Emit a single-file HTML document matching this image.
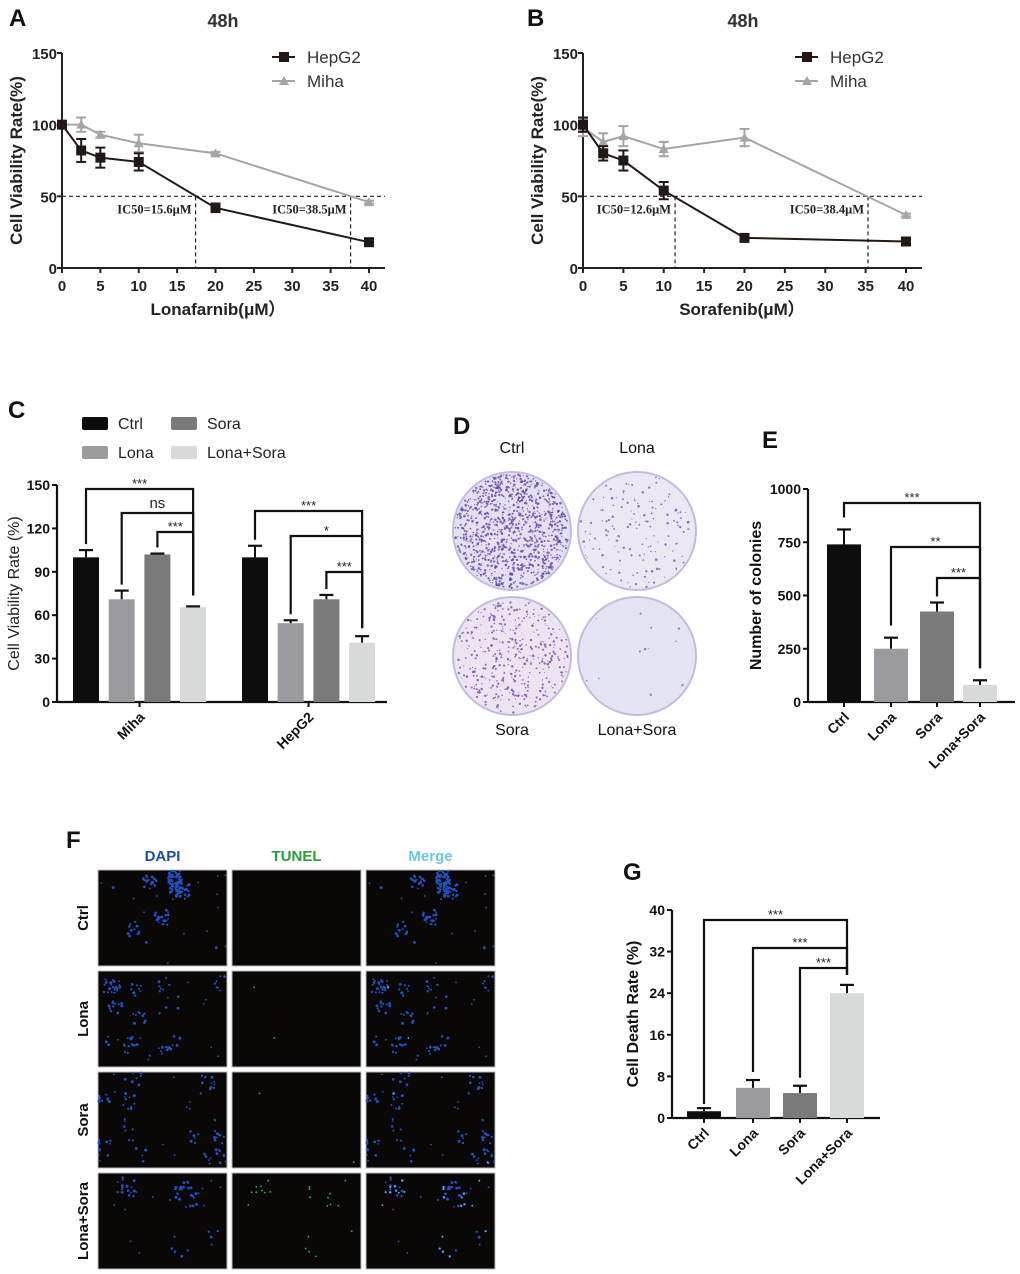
<!DOCTYPE html>
<html><head><meta charset="utf-8"><style>
html,body{margin:0;padding:0;background:#fff;}
svg{display:block;font-family:"Liberation Sans",Arial,sans-serif;}
</style></head><body>
<svg id="fig" width="1020" height="1274" viewBox="0 0 1020 1274" xmlns="http://www.w3.org/2000/svg"></svg>
<script>
// ---------- Panel A data ----------
const doseA = [0, 2.5, 5, 10, 20, 40];
const hepA = [100, 82, 77, 74, 42, 18];
const hepAErr = [1, 8, 7, 6, 3, 2];
const mihaA = [100, 100, 93, 87, 80, 46];
const mihaAErr = [1, 5, 2, 6, 1, 1];
const ic50A = [17.4, 37.6];
// ---------- Panel B data ----------
const doseB = [0, 2.5, 5, 10, 20, 40];
const hepB = [100, 80, 75, 54, 21, 18.5];
const hepBErr = [5, 5, 7, 6, 1, 1];
const mihaB = [98, 88, 92, 83, 91, 37];
const mihaBErr = [6, 6, 7, 5, 6, 1];
const ic50B = [11.4, 35.3];
const xTicksLine = [0, 5, 10, 15, 20, 25, 30, 35, 40];
const yTicksLine = [0, 50, 100, 150];
// ---------- Panel C data ----------
const groupsC = ['Miha', 'HepG2'];
const seriesC = ['Ctrl', 'Lona', 'Sora', 'Lona+Sora'];
const mihaC = [100, 71, 102, 65.5];
const mihaCErr = [5, 6, 0.6, 0.6];
const hepC = [100, 54.5, 71, 41];
const hepCErr = [8, 2, 3, 4.5];
const yTicksC = [0, 30, 60, 90, 120, 150];
// ---------- Panel E data ----------
const catsE = ['Ctrl', 'Lona', 'Sora', 'Lona+Sora'];
const valsE = [740, 250, 425, 80];
const errE = [70, 52, 42, 22];
const yTicksE = [0, 250, 500, 750, 1000];
// ---------- Panel G data ----------
const catsG = ['Ctrl', 'Lona', 'Sora', 'Lona+Sora'];
const valsG = [1.3, 5.8, 4.8, 24];
const errG = [0.6, 1.5, 1.4, 1.6];
const yTicksG = [0, 8, 16, 24, 32, 40];

const barColors = ['#0d0d0d', '#9b9b9f', '#7a7a7a', '#d8d9d9'];
const NS = 'http://www.w3.org/2000/svg';
const svg = document.getElementById('fig');
function mk(tag, attrs, parent) {
  const e = document.createElementNS(NS, tag);
  for (const k in attrs) e.setAttribute(k, attrs[k]);
  (parent || svg).appendChild(e);
  return e;
}
function txt(s, x, y, size, opts, parent) {
  const a = Object.assign({x: x, y: y, 'font-size': size, fill: '#111'}, opts || {});
  const t = mk('text', a, parent);
  t.textContent = s;
  return t;
}
function label(letter, x, y) {
  const t = txt(letter, x, y, 24, {'font-weight': 'bold'});
  
  
}
label('A', 9, 26); label('B', 527, 26); label('C', 8, 418); label('D', 453, 434);
label('E', 762, 448); label('F', 66, 848); label('G', 623, 880);

// ---------- line chart ----------
function lineChart(cfg) {
  const g = mk('g', {});
  
  
  const sx = v => cfg.x0 + (v / 40) * (cfg.x1 - cfg.x0);
  const sy = v => cfg.y0 - (v / 150) * (cfg.y0 - cfg.y1);
  const ti = txt('48h', cfg.titleX, 27, 18, {'font-weight': 'bold', 'text-anchor': 'middle', fill: '#333'}, g);
  
  
  const ya = mk('line', {x1: cfg.x0, y1: cfg.y1, x2: cfg.x0, y2: cfg.y0 + 5, stroke: '#222', 'stroke-width': 2}, g);
  
  
  const xa = mk('line', {x1: cfg.x0 - 5, y1: cfg.y0, x2: cfg.x1 + 16, y2: cfg.y0, stroke: '#222', 'stroke-width': 2}, g);
  
  
  yTicksLine.forEach(v => {
    mk('line', {x1: cfg.x0 - 5, y1: sy(v), x2: cfg.x0, y2: sy(v), stroke: '#222', 'stroke-width': 2}, g);
    const t = txt(String(v), cfg.x0 - 5, sy(v) + 6, 15, {'font-weight': 'bold', 'text-anchor': 'end', fill: '#222'}, g);
    
    
  });
  xTicksLine.forEach(v => {
    mk('line', {x1: sx(v), y1: cfg.y0, x2: sx(v), y2: cfg.y0 + 5, stroke: '#222', 'stroke-width': 2}, g);
    const t = txt(String(v), sx(v), cfg.y0 + 23, 15, {'font-weight': 'bold', 'text-anchor': 'middle', fill: '#222'}, g);
    
    
  });
  const yt = txt('Cell Viability Rate(%)', 0, 0, 17, {'font-weight': 'bold', 'text-anchor': 'middle', fill: '#222', transform: 'translate(' + (cfg.x0 - 40) + ',' + ((cfg.y0 + cfg.y1) / 2) + ') rotate(-90)'}, g);
  
  
  const xt = txt(cfg.xTitle, cfg.xTitleX, cfg.y0 + 47, 17, {'font-weight': 'bold', 'text-anchor': 'middle', fill: '#222'}, g);
  
  
  const h = mk('line', {x1: cfg.x0, y1: sy(50), x2: cfg.x1 + 16, y2: sy(50), stroke: '#222', 'stroke-width': 1.2, 'stroke-dasharray': '4,3'}, g);
  
  
  cfg.ic50.forEach((d, i) => {
    const v = mk('line', {x1: sx(d), y1: sy(50), x2: sx(d), y2: cfg.y0, stroke: '#222', 'stroke-width': 1.2, 'stroke-dasharray': '4,3'}, g);
    
    
    const t = txt(cfg.icLabels[i], sx(d) - 4, sy(50) + 17, 12.5, {'font-family': '"Liberation Serif",serif', 'font-weight': 'bold', 'text-anchor': 'end', fill: '#222'}, g);
    
    
  });
  function series(vals, errs, color, marker, nm) {
    const sg = mk('g', {}, g);
    
    
    const pts = cfg.dose.map((d, i) => sx(d) + ',' + sy(vals[i])).join(' ');
    mk('polyline', {points: pts, fill: 'none', stroke: color, 'stroke-width': 2}, sg);
    cfg.dose.forEach((d, i) => {
      const x = sx(d), yT = sy(vals[i] + errs[i]), yB = sy(vals[i] - errs[i]);
      mk('line', {x1: x, y1: yT, x2: x, y2: yB, stroke: color, 'stroke-width': 2}, sg);
      mk('line', {x1: x - 5, y1: yT, x2: x + 5, y2: yT, stroke: color, 'stroke-width': 2}, sg);
      mk('line', {x1: x - 5, y1: yB, x2: x + 5, y2: yB, stroke: color, 'stroke-width': 2}, sg);
      let m;
      if (marker === 'sq') m = mk('rect', {x: x - 5, y: sy(vals[i]) - 5, width: 10, height: 10, fill: color}, sg);
      else { const y = sy(vals[i]); m = mk('polygon', {points: (x - 5) + ',' + (y + 4) + ' ' + (x + 5) + ',' + (y + 4) + ' ' + x + ',' + (y - 5), fill: color}, sg); }
      
      
    });
  }
  series(cfg.miha, cfg.mihaErr, '#a5a5a5', 'tri', 'series-miha');
  series(cfg.hep, cfg.hepErr, '#231815', 'sq', 'series-hepg2');
  const lx = cfg.legX;
  const l1 = mk('g', {}, g);
  
  
  mk('line', {x1: lx, y1: 57, x2: lx + 23, y2: 57, stroke: '#231815', 'stroke-width': 2}, l1);
  mk('rect', {x: lx + 7, y: 52, width: 10, height: 10, fill: '#231815'}, l1);
  txt('HepG2', lx + 35, 63, 17, {fill: '#333'}, l1);
  const l2 = mk('g', {}, g);
  
  
  mk('line', {x1: lx, y1: 81, x2: lx + 23, y2: 81, stroke: '#a5a5a5', 'stroke-width': 2}, l2);
  mk('polygon', {points: (lx + 7) + ',85 ' + (lx + 17) + ',85 ' + (lx + 12) + ',76', fill: '#a5a5a5'}, l2);
  txt('Miha', lx + 35, 87, 17, {fill: '#333'}, l2);
}
lineChart({name: 'chart-a-lonafarnib', x0: 62, x1: 369, y0: 268, y1: 53, dose: doseA, hep: hepA, hepErr: hepAErr, miha: mihaA, mihaErr: mihaAErr, ic50: ic50A, icLabels: ['IC50=15.6μM', 'IC50=38.5μM'], titleX: 223, legX: 272, xTitle: 'Lonafarnib(μM）', xTitleX: 218});
lineChart({name: 'chart-b-sorafenib', x0: 583, x1: 906, y0: 268, y1: 53, dose: doseB, hep: hepB, hepErr: hepBErr, miha: mihaB, mihaErr: mihaBErr, ic50: ic50B, icLabels: ['IC50=12.6μM', 'IC50=38.4μM'], titleX: 743, legX: 795, xTitle: 'Sorafenib(μM）', xTitleX: 742});

// ---------- bar chart helpers ----------
function bracket(g, xl, xr, y, yl, yr, lab) {
  const b = mk('g', {}, g);
  
  
  mk('polyline', {points: xl + ',' + yl + ' ' + xl + ',' + y + ' ' + xr + ',' + y + ' ' + xr + ',' + yr, fill: 'none', stroke: '#111', 'stroke-width': 2.2}, b);
  const isNs = lab === 'ns';
  txt(lab, (xl + xr) / 2, y - (isNs ? 5 : 1), isNs ? 15 : 13, {'text-anchor': 'middle', fill: '#222'}, b);
}
function vertBars(g, opts) {
  const sy = v => opts.y0 - (v / opts.max) * (opts.y0 - opts.y1);
  const ya = mk('line', {x1: opts.ax, y1: opts.y1, x2: opts.ax, y2: opts.y0, stroke: '#111', 'stroke-width': 2.2}, g);
  
  
  const xa = mk('line', {x1: opts.ax, y1: opts.y0, x2: opts.axEnd, y2: opts.y0, stroke: '#111', 'stroke-width': 2.2}, g);
  
  
  opts.ticks.forEach(v => {
    mk('line', {x1: opts.ax - 5, y1: sy(v), x2: opts.ax, y2: sy(v), stroke: '#111', 'stroke-width': 2}, g);
    const t = txt(String(v), opts.ax - 7, sy(v) + 5, 14, {'font-weight': 'bold', 'text-anchor': 'end', fill: '#111'}, g);
    
    
  });
  return sy;
}
function drawBar(g, x, w, v, e, color, sy, y0, nm) {
  const r = mk('rect', {x: x, y: sy(v), width: w, height: y0 - sy(v), fill: color}, g);
  
  
  const cx = x + w / 2;
  mk('line', {x1: cx, y1: sy(v), x2: cx, y2: sy(v + e), stroke: '#111', 'stroke-width': 2}, g);
  mk('line', {x1: cx - 7, y1: sy(v + e), x2: cx + 7, y2: sy(v + e), stroke: '#111', 'stroke-width': 2.2}, g);
}

// ---------- Panel C ----------
(function () {
  const g = mk('g', {});
  
  
  const y0 = 702, y1 = 485;
  const sy = vertBars(g, {ax: 57, axEnd: 387, y0: y0, y1: y1, max: 150, ticks: yTicksC});
  const groupStart = [73, 242], step = 35.7, w = 26;
  const gv = [mihaC, hepC], ge = [mihaCErr, hepCErr];
  groupsC.forEach((gn, gi) => {
    seriesC.forEach((s, si) => {
      drawBar(g, groupStart[gi] + si * step, w, gv[gi][si], ge[gi][si], barColors[si], sy, y0, 'bar-' + gn.toLowerCase() + '-' + s.toLowerCase());
    });
    const cx = groupStart[gi] + 1.5 * step + w / 2;
    mk('line', {x1: cx, y1: y0, x2: cx, y2: y0 + 5, stroke: '#111', 'stroke-width': 2}, g);
    const t = txt(gn, 0, 0, 14, {'font-weight': 'bold', 'text-anchor': 'end', fill: '#111', transform: 'translate(' + (cx + 6) + ',' + (y0 + 16) + ') rotate(-45)'}, g);
    
    
  });
  const yt = txt('Cell Viability Rate (%)', 0, 0, 16, {'text-anchor': 'middle', fill: '#222', transform: 'translate(19,' + ((y0 + y1) / 2) + ') rotate(-90)'}, g);
  
  
  const bc = i => groupStart[0] + i * step + w / 2, hc = i => groupStart[1] + i * step + w / 2;
  bracket(g, bc(0), bc(3), 489, sy(mihaC[0] + mihaCErr[0]) - 6, sy(mihaC[3]) - 12, '***');
  bracket(g, bc(1), bc(3), 513, sy(mihaC[1] + mihaCErr[1]) - 6, sy(mihaC[3]) - 12, 'ns');
  bracket(g, bc(2), bc(3), 532, sy(mihaC[2]) - 7, sy(mihaC[3]) - 12, '***');
  bracket(g, hc(0), hc(3), 511, sy(hepC[0] + hepCErr[0]) - 6, sy(hepC[3] + hepCErr[3]) - 8, '***');
  bracket(g, hc(1), hc(3), 536, sy(hepC[1] + hepCErr[1]) - 6, sy(hepC[3] + hepCErr[3]) - 8, '*');
  bracket(g, hc(2), hc(3), 572, sy(hepC[2] + hepCErr[2]) - 6, sy(hepC[3] + hepCErr[3]) - 8, '***');
  const lp = [[82, 417], [82, 446], [171, 417], [171, 446]];
  [0, 1, 2, 3].forEach(i => {
    const lg = mk('g', {}, g);
    
    
    mk('rect', {x: lp[i][0], y: lp[i][1], width: 26, height: 13, rx: 2, fill: barColors[i]}, lg);
    txt(seriesC[i], lp[i][0] + 36, lp[i][1] + 12, 16, {fill: '#222'}, lg);
  });
})();

// ---------- seeded rng for decorative texture ----------
let seed = 12345;
function rnd() { seed = (seed * 1103515245 + 12345) % 2147483648; return seed / 2147483648; }

// ---------- Panel D (colony plates) ----------
(function () {
  const g = mk('g', {});
  
  
  const plates = [['Ctrl', 512, 531, 1100, '#5a48a8', 453], ['Lona', 637, 531, 140, '#7a5ab0', 453], ['Sora', 512, 656, 380, '#7a4aa8', 735], ['Lona+Sora', 637, 656, 12, '#7a6ab8', 735]];
  const fills = ['#e4e0f0', '#ece8f3', '#ece4f0', '#e4e4f2'];
  plates.forEach((p, i) => {
    const pg = mk('g', {}, g);
    
    
    mk('circle', {cx: p[1], cy: p[2], r: 59, fill: fills[i], stroke: '#c4bcdf', 'stroke-width': 2}, pg);
    for (let k = 0; k < p[3]; k++) {
      const a = rnd() * Math.PI * 2, r = Math.sqrt(rnd()) * 57;
      mk('circle', {cx: (p[1] + Math.cos(a) * r).toFixed(1), cy: (p[2] + Math.sin(a) * r).toFixed(1), r: (0.5 + rnd() * 0.8).toFixed(2), fill: p[4], opacity: 0.8}, pg);
    }
    const t = txt(p[0], p[1], p[5], 16, {'text-anchor': 'middle', fill: '#111'}, g);
    
    
  });
})();

// ---------- Panel E ----------
(function () {
  const g = mk('g', {});
  
  
  const y0 = 702, y1 = 489;
  const sy = vertBars(g, {ax: 808, axEnd: 1015, y0: y0, y1: y1, max: 1000, ticks: yTicksE});
  const xs = [827, 874, 920, 963], w = 34;
  catsE.forEach((c, i) => {
    drawBar(g, xs[i], w, valsE[i], errE[i], barColors[i], sy, y0, 'bar-' + c.toLowerCase());
    const cx = xs[i] + w / 2;
    mk('line', {x1: cx, y1: y0, x2: cx, y2: y0 + 5, stroke: '#111', 'stroke-width': 2}, g);
    const t = txt(c, 0, 0, 14, {'font-weight': 'bold', 'text-anchor': 'end', fill: '#111', transform: 'translate(' + (cx + 6) + ',' + (y0 + 16) + ') rotate(-45)'}, g);
    
    
  });
  const c = i => xs[i] + w / 2;
  bracket(g, c(0), c(3), 503, sy(valsE[0] + errE[0]) - 12, sy(valsE[3] + errE[3]) - 12, '***');
  bracket(g, c(1), c(3), 547, sy(valsE[1] + errE[1]) - 12, sy(valsE[3] + errE[3]) - 12, '**');
  bracket(g, c(2), c(3), 578, sy(valsE[2] + errE[2]) - 6, sy(valsE[3] + errE[3]) - 12, '***');
  const yt = txt('Number of colonies', 0, 0, 16, {'font-weight': 'bold', 'text-anchor': 'middle', fill: '#111', transform: 'translate(761,' + ((y0 + y1) / 2) + ') rotate(-90)'}, g);
  
  
})();

// ---------- Panel F (TUNEL images) ----------
(function () {
  const g = mk('g', {});
  
  
  const cols = [98, 232, 366], rows = [870, 971, 1072, 1173], W = 129, H = 96;
  const heads = [['DAPI', '#1f4ea0'], ['TUNEL', '#2a9d3a'], ['Merge', '#6cc6dc']];
  heads.forEach((h, i) => {
    const t = txt(h[0], cols[i] + W / 2, 861, 15, {'font-weight': 'bold', 'text-anchor': 'middle', fill: h[1]}, g);
    
    
  });
  const rowNames = ['Ctrl', 'Lona', 'Sora', 'Lona+Sora'];
  const clusters = [10, 14, 16, 9], perCluster = [14, 7, 5, 5], greenCounts = [0, 2, 2, 30];
  rowNames.forEach((rn, ri) => {
    const t = txt(rn, 0, 0, 15, {'font-weight': 'bold', 'text-anchor': 'middle', fill: '#111', transform: 'translate(88,' + (rows[ri] + H / 2) + ') rotate(-90)'}, g);
    
    
    const blues = [];
    for (let c = 0; c < clusters[ri]; c++) {
      const cx0 = 5 + rnd() * (W - 10), cy0 = 5 + rnd() * (H - 10);
      const n = 1 + Math.floor(rnd() * perCluster[ri] * 2);
      for (let k = 0; k < n; k++) blues.push([Math.min(W - 1, Math.max(1, cx0 + (rnd() - 0.5) * 14)), Math.min(H - 1, Math.max(1, cy0 + (rnd() - 0.5) * 16)), 0.9 + rnd() * 0.6]);
    }
    for (let k = 0; k < 12; k++) blues.push([1 + rnd() * (W - 2), 1 + rnd() * (H - 2), 0.9]);
    const greens = [];
    for (let k = 0; k < greenCounts[ri]; k++) { const b = blues[Math.floor(rnd() * blues.length)]; greens.push([b[0], b[1], 0.9]); }
    cols.forEach((cx, ci) => {
      const ig = mk('g', {}, g);
      
      
      mk('rect', {x: cx, y: rows[ri], width: W, height: H, fill: '#0a0707', stroke: '#bbb', 'stroke-width': 1}, ig);
      if (ci !== 1) blues.forEach(b => mk('circle', {cx: (cx + b[0]).toFixed(1), cy: (rows[ri] + b[1]).toFixed(1), r: b[2].toFixed(1), fill: '#2350c0'}, ig));
      if (ci !== 0) greens.forEach(b => mk('circle', {cx: (cx + b[0]).toFixed(1), cy: (rows[ri] + b[1]).toFixed(1), r: b[2], fill: ci === 1 ? '#2fb83a' : '#5ab8ee'}, ig));
    });
  });
})();

// ---------- Panel G ----------
(function () {
  const g = mk('g', {});
  
  
  const y0 = 1118, y1 = 910;
  const sy = vertBars(g, {ax: 672, axEnd: 880, y0: y0, y1: y1, max: 40, ticks: yTicksG});
  const xs = [687, 736, 783, 830], w = 34;
  catsG.forEach((c, i) => {
    drawBar(g, xs[i], w, valsG[i], errG[i], barColors[i], sy, y0, 'bar-' + c.toLowerCase());
    const cx = xs[i] + w / 2;
    mk('line', {x1: cx, y1: y0, x2: cx, y2: y0 + 5, stroke: '#111', 'stroke-width': 2}, g);
    const t = txt(c, 0, 0, 14, {'font-weight': 'bold', 'text-anchor': 'end', fill: '#111', transform: 'translate(' + (cx + 6) + ',' + (y0 + 16) + ') rotate(-45)'}, g);
    
    
  });
  const c = i => xs[i] + w / 2;
  const top3 = sy(valsG[3] + errG[3]) - 10;
  bracket(g, c(0), c(3), 920, sy(valsG[0] + errG[0]) - 4, top3, '***');
  bracket(g, c(1), c(3), 948, sy(valsG[1] + errG[1]) - 8, top3, '***');
  bracket(g, c(2), c(3), 968, sy(valsG[2] + errG[2]) - 8, top3, '***');
  const yt = txt('Cell Death Rate (%)', 0, 0, 16, {'font-weight': 'bold', 'text-anchor': 'middle', fill: '#111', transform: 'translate(638,' + ((y0 + y1) / 2) + ') rotate(-90)'}, g);
  
  
})();
</script>
</body></html>
